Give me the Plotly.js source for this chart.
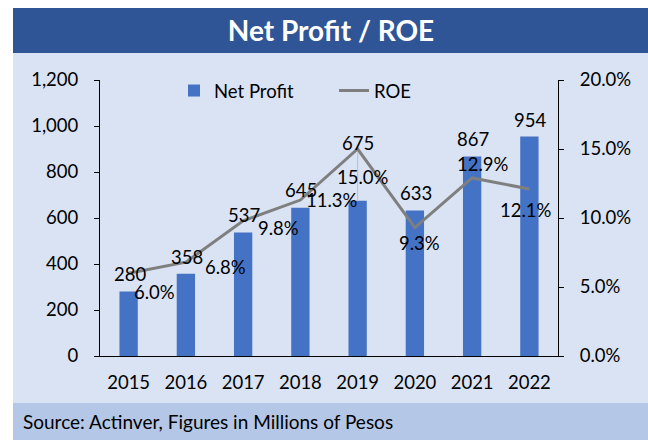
<!DOCTYPE html>
<html>
<head>
<meta charset="utf-8">
<script src="https://cdn.plot.ly/plotly-3.0.1.min.js"></script>
<style>
html,body{margin:0;padding:0;background:#fff;}
#chart{width:648px;height:440px;}
</style>
</head>
<body>
<div id="chart"></div>
<script>
// ---- data ----
var years = ["2015","2016","2017","2018","2019","2020","2021","2022"];
var netProfit = [280, 358, 537, 645, 675, 633, 867, 954];
var roe = [6.0, 6.8, 9.8, 11.3, 15.0, 9.3, 12.9, 12.1];
var leftTicks = [0, 200, 400, 600, 800, 1000, 1200];
var rightTicks = [0, 5, 10, 15, 20];

// ---- label placement (pixel offsets relative to the data point) ----
var barLabelShift = [[1,17.5],[1,17],[1,17.5],[1,18],[0,58],[1,17],[1,18],[1,17]];
var roeLabelShift = [[26,-19],[40,-5],[35,-7],[32,0],[5,-28],[5,-15],[11,14],[-3,-21]];

var FONT = "Lato, 'Liberation Sans', sans-serif";
var TXT = "#000000";

// plot area in px: x 100..558, y 80..356
var L = 100, R = 558, T = 80, B = 356, W = 648, H = 440;
function px2x(p){ return (p - L) / (R - L); }
function px2y(p){ return (B - p) / (B - T); }

var idx = years.map(function(_, i){ return i; });

var annotations = [];
idx.forEach(function(i){
  annotations.push({
    x: i, y: netProfit[i], xref: 'x', yref: 'y',
    text: String(netProfit[i]), showarrow: false,
    xanchor: 'center', yanchor: 'middle',
    xshift: barLabelShift[i][0], yshift: barLabelShift[i][1],
    font: {family: FONT, size: 18.5, color: TXT}
  });
  annotations.push({
    x: i, y: roe[i], xref: 'x', yref: 'y2',
    text: roe[i].toFixed(1) + '%', showarrow: false,
    xanchor: 'center', yanchor: 'middle',
    xshift: roeLabelShift[i][0], yshift: roeLabelShift[i][1],
    font: {family: FONT, size: 18.5, color: TXT}
  });
});
annotations.push({
  x: px2x(21), y: px2y(421), xref: 'paper', yref: 'paper',
  text: 'Source: Actinver, Figures in Millions of Pesos', showarrow: false,
  xanchor: 'left', yanchor: 'middle',
  font: {family: FONT, size: 19, color: TXT}
});

// leader line from 2019 bar top to its moved label
var pxPerUnit = (B - T) / 1200;
var shapes = [
  {type:'rect', xref:'paper', yref:'paper', x0:px2x(13), x1:px2x(W), y0:px2y(53), y1:px2y(403),
   fillcolor:'#DAE3F3', line:{width:0}, layer:'below'},
  {type:'rect', xref:'paper', yref:'paper', x0:px2x(13), x1:px2x(W), y0:px2y(8), y1:px2y(53),
   fillcolor:'#2F5597', line:{width:0}, layer:'below'},
  {type:'rect', xref:'paper', yref:'paper', x0:px2x(13), x1:px2x(W), y0:px2y(403), y1:px2y(H),
   fillcolor:'#B4C7E7', line:{width:0}, layer:'below'},
  {type:'line', xref:'x', yref:'y', x0:4, x1:4,
   y0:netProfit[4], y1:netProfit[4] + (barLabelShift[4][1] - 10) / pxPerUnit,
   line:{color:'#BFBFBF', width:1}}
];

var traces = [
  {type:'bar', name:'Net Profit', x: idx, y: netProfit,
   marker:{color:'#4472C4'}, hoverinfo:'skip'},
  {type:'scatter', mode:'lines', name:'ROE', x: idx, y: roe, yaxis:'y2',
   line:{color:'#7F7F7F', width:3}, hoverinfo:'skip'}
];

var layout = {
  width: W, height: H,
  margin: {l: L, r: W - R, t: T, b: H - B, pad: 0},
  paper_bgcolor: '#FFFFFF',
  plot_bgcolor: 'rgba(0,0,0,0)',
  font: {family: FONT, size: 18.5, color: TXT},
  title: {text: '<b>Net Profit / ROE</b>', font:{family: FONT, size: 28, color:'#FFFFFF'},
          x: 331/W, xref:'container', xanchor:'center', y: 1 - 31/H, yref:'container', yanchor:'middle'},
  bargap: 0.68,
  showlegend: true,
  legend: {orientation:'h', x: px2x(174), y: px2y(72), xanchor:'left', yanchor:'top',
           bgcolor:'rgba(0,0,0,0)', font:{family: FONT, size: 18.5, color: TXT},
           itemwidth: 30, entrywidth: 115, tracegroupgap: 0},
  xaxis: {range:[-0.5, 7.5], tickvals: idx, ticktext: years, showgrid:false, zeroline:false,
          showline:true, linecolor:'#000000', linewidth:1,
          ticks:'', tickfont:{family: FONT, size: 18.5, color: TXT}, ticklabelstandoff: 10,
          fixedrange:true},
  yaxis: {range:[0,1200], tickvals: leftTicks, tickformat:',', showgrid:false, zeroline:false,
          showline:true, linecolor:'#000000', linewidth:1,
          ticks:'outside', ticklen:5, tickcolor:'#000000',
          tickfont:{family: FONT, size: 18.5, color: TXT}, ticklabelstandoff: 12, fixedrange:true},
  yaxis2: {range:[0,20], tickvals: rightTicks,
           ticktext: rightTicks.map(function(v){ return v.toFixed(1) + '%'; }),
           overlaying:'y', side:'right', showgrid:false, zeroline:false,
           showline:true, linecolor:'#000000', linewidth:1,
           ticks:'outside', ticklen:5, tickcolor:'#000000',
           tickfont:{family: FONT, size: 18.5, color: TXT}, ticklabelstandoff: 12, fixedrange:true},
  annotations: annotations,
  shapes: shapes
};

Plotly.newPlot('chart', traces, layout, {displayModeBar:false, staticPlot:true});
</script>
</body>
</html>
